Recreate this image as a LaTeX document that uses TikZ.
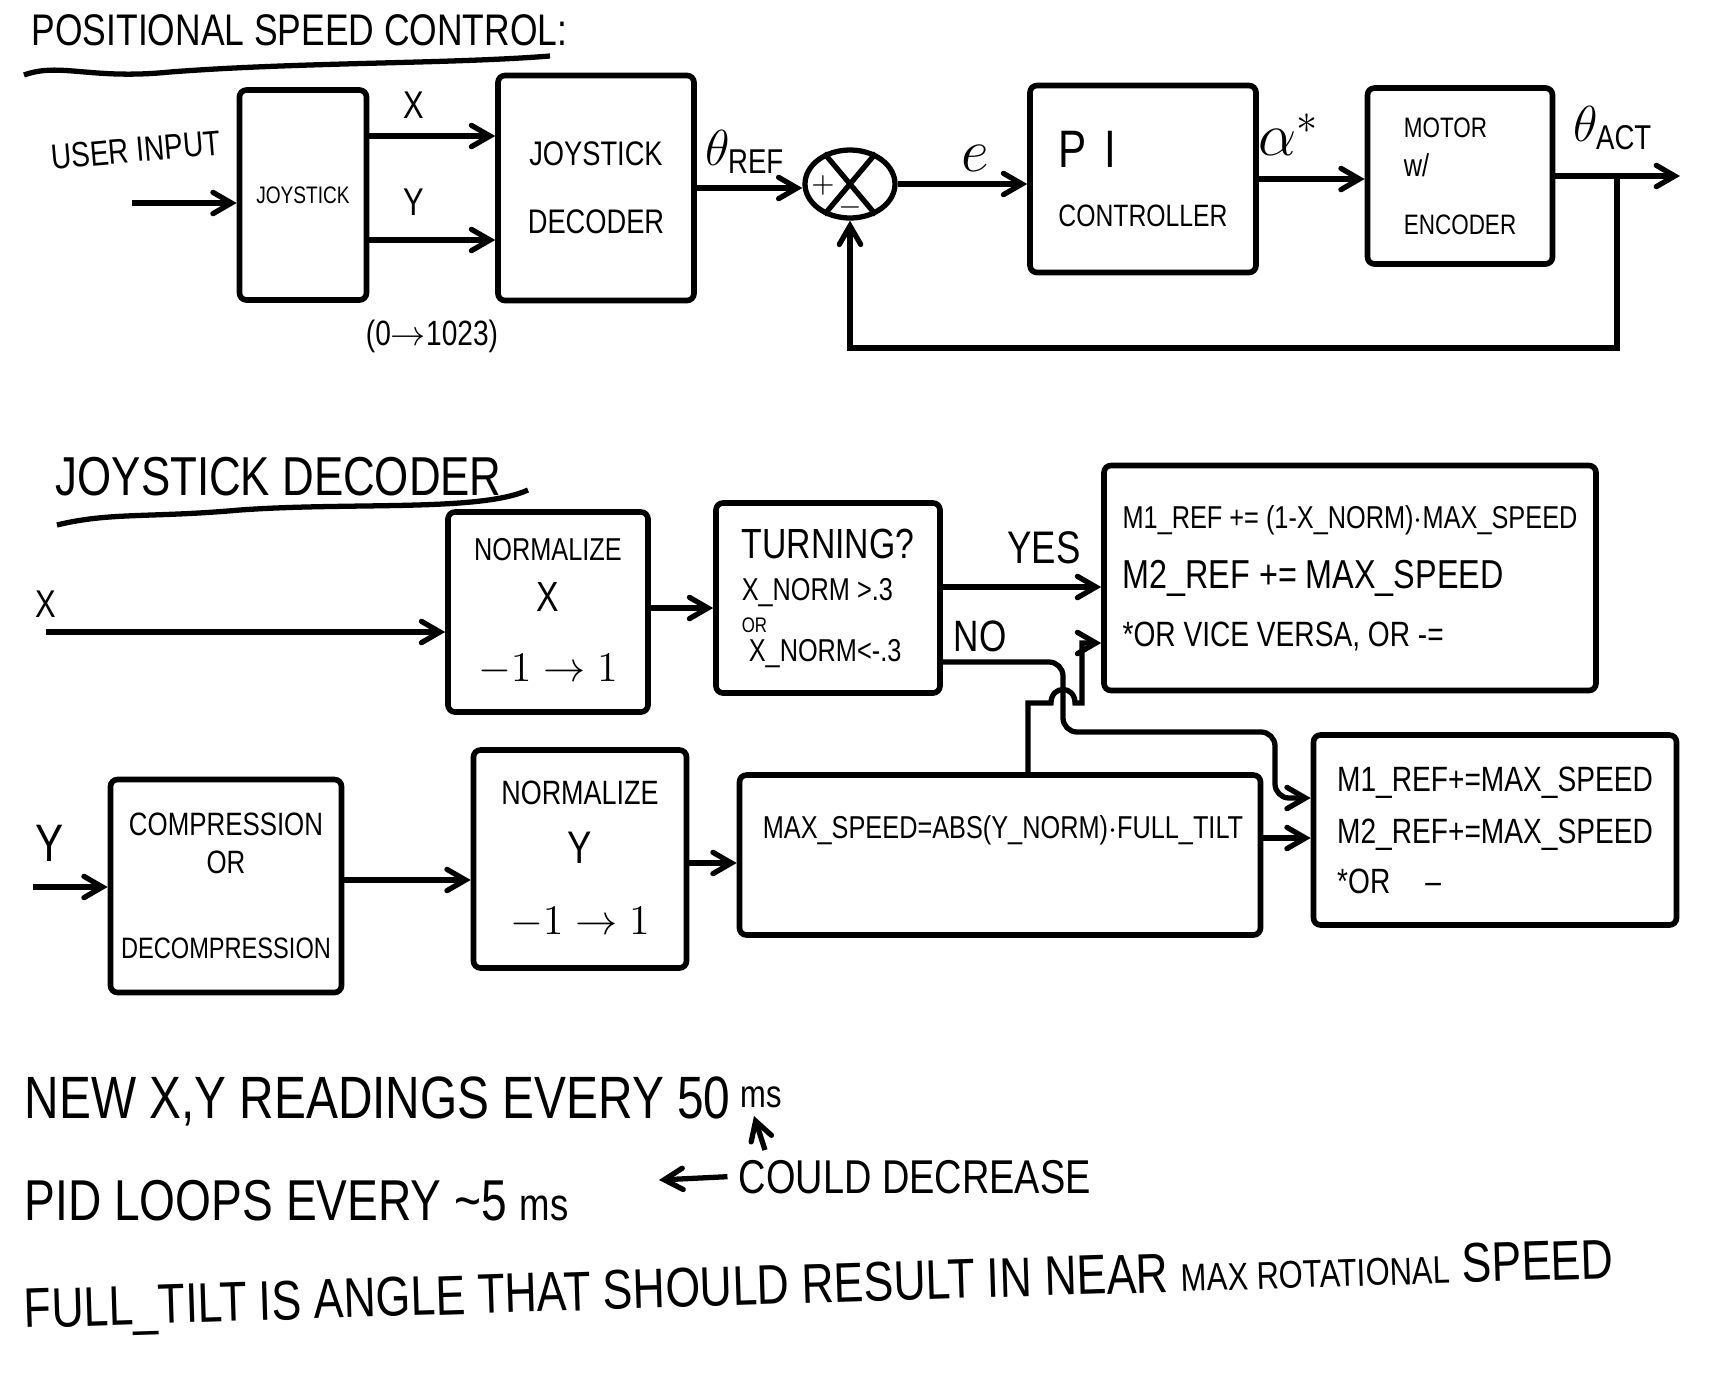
\documentclass[tikz,border=0pt]{standalone}
\usepackage{amsmath}
\usepackage{fontspec}
\setmainfont{Liberation Sans}[FakeStretch=0.8]
\usepackage{tikz}
\usetikzlibrary{shapes.geometric, arrows}
\tikzstyle{arrow} = [line width=1.5pt,->,>=angle 60]
\tikzstyle{line} = [line width=1.5pt]
\tikzstyle{block} = [draw, line width=1.6pt, rectangle, rounded corners=2pt, inner sep=0pt, align=center, font=\fs{10}]
\tikzstyle{note} = [anchor=base west, inner sep=0pt]
\newcommand{\fs}[1]{\fontsize{#1}{#1}\selectfont}

\begin{document}
\begin{tikzpicture}[x=0.1mm,y=-0.1mm]
\fill[white] (0,0) rectangle (1727,1372);
\useasboundingbox (0,0) rectangle (1727,1372);

\node[note, font=\fs{12.6}] (title) at (31,45) {POSITIONAL SPEED CONTROL:};
\draw[line] (24,75) .. controls (60,62) and (90,80) .. (170,72) .. controls (300,62) and (450,64) .. (550,56);

\node[font=\fs{10}, rotate=5] (uinput) at (136,150) {USER INPUT};
\coordinate (uin) at (132,203);
\node[block, minimum width=12.7mm, minimum height=21mm] (joy) at (303,195) {{\fs{6.8}JOYSTICK}};
\node[block, minimum width=19.6mm, minimum height=22.5mm] (dec) at (596,188) {{\fs{9.7}JOYSTICK}\\[9.3pt]{\fs{9.7}DECODER}};
\node[draw, ellipse, line width=1.5pt, minimum width=9mm, minimum height=6.8mm, inner sep=0pt] (sum) at (850,184) {};
\node[block, align=left, minimum width=22.6mm, minimum height=18.7mm] (pi) at (1143,179) {{\fs{15}P\,\,I}\\[7pt]{\fs{8.8}CONTROLLER}};
\node[block, align=left, minimum width=18.5mm, minimum height=17.6mm] (motor) at (1460,176) {{\fs{8}MOTOR}\\[1pt]{\fs{9}w/}\\[6.5pt]{\fs{8}ENCODER}};
\coordinate (tap) at (1617,176);
\coordinate (out) at (1680,176);

\draw[line] (sum.130) -- (sum.-50) (sum.50) -- (sum.-130);
\node[font=\fs{8}, inner sep=0pt] (plus) at (823,185) {$+$};
\node[font=\fs{8}, inner sep=0pt] (minus) at (850,207) {$-$};

\draw[arrow] (uin) -- (joy.west |- uin);
\draw[arrow] (joy.east |- 0,136) -- (dec.west |- 0,136) node[pos=0.35, above=1pt, font=\fs{11}] (xlab) {X};
\draw[arrow] (joy.east |- 0,240) -- (dec.west |- 0,240) node[pos=0.35, above=3pt, font=\fs{11}] (ylab) {Y};
\node[font=\fs{10}] (range) at (432,336) {(0$\rightarrow$1023)};
\draw[arrow] (dec.east) -- (dec.east -| sum.west);
\node[font=\fs{14}] (thref) at (745,152) {$\theta_{\text{REF}}$};
\draw[arrow] (sum.east) -- (sum.east -| pi.west);
\node[font=\fs{17}] (elab) at (975,158) {$e$};
\draw[arrow] (pi.east) -- (pi.east -| motor.west);
\node[font=\fs{17}] (alab) at (1289,135) {$\alpha^{*}$};
\draw[arrow] (motor.east) -- (out);
\node[font=\fs{14}] (thact) at (1613,128) {$\theta_{\text{ACT}}$};
\draw[arrow] (tap) -- (1617,348) -| (sum.south);

\node[note, font=\fs{15.6}] (title2) at (55,495) {JOYSTICK DECODER};
\draw[line] (57,525) .. controls (110,512) and (150,518) .. (240,510) .. controls (350,502) and (480,512) .. (528,490);

\node[font=\fs{11}] (xlab2) at (46,604) {X};
\coordinate (xin) at (46,632);
\node[font=\fs{15}] (ylab2) at (50,843) {Y};
\coordinate (yin) at (33,887);

\node[block, minimum width=20mm, minimum height=20mm] (nx) at (548,612) {{\fs{9}NORMALIZE}\\[4.5pt]{\fs{12}X}\\[10pt]{\fs{13}$-1\rightarrow1$}};
\node[block, align=left, minimum width=22.4mm, minimum height=19mm] (turn) at (828,598) {{\fs{12}TURNING?}\\[2pt]{\fs{9}X\_NORM >.3}\\[-0.9pt]{\fs{6}OR}\\[-1.8pt]{\fs{9}\hspace{2pt}X\_NORM<-.3}};
\node[block, align=left, minimum width=49.2mm, minimum height=22.5mm] (ybox) at (1350,578) {{\fs{9}M1\_REF += (1-X\_NORM)$\cdot$MAX\_SPEED}\\[7pt]{\fs{11.5}M2\_REF += MAX\_SPEED}\\[6.5pt]{\fs{10}*OR VICE VERSA, OR -=}};
\node[block, minimum width=23.1mm, minimum height=21.3mm] (comp) at (226,886) {{\fs{9.2}COMPRESSION}\\[0.8pt]{\fs{9.2}OR}\\[14.2pt]{\fs{8.4}DECOMPRESSION}};
\node[block, minimum width=21.3mm, minimum height=21.8mm] (ny) at (580,859) {{\fs{9.6}NORMALIZE}\\[7pt]{\fs{13}Y}\\[10pt]{\fs{13}$-1\rightarrow1$}};
\node[block, minimum width=52.1mm, minimum height=16mm] (maxs) at (1000,855) {};
\node[font=\fs{9}] (maxtxt) at (1003,830) {MAX\_SPEED=ABS(Y\_NORM)$\cdot$FULL\_TILT};
\node[block, align=left, minimum width=36.3mm, minimum height=19mm] (nob) at (1495,830) {{\fs{10}M1\_REF+=MAX\_SPEED}\\[5pt]{\fs{10}M2\_REF+=MAX\_SPEED}\\[4pt]{\fs{10}*OR\quad\textendash}};

\draw[arrow] (xin) -- (nx.west |- xin);
\draw[arrow] (nx.east |- 0,608) -- (turn.west |- 0,608);
\draw[arrow] (turn.east |- 0,587) -- (ybox.west |- 0,587);
\node[font=\fs{13}] (yes) at (1044,548) {YES};
\draw[arrow, rounded corners=4pt] (turn.east |- 0,662) -| (1063,732) -| (1275,798) -- (nob.west |- 0,798);
\node[font=\fs{12.5}] (no) at (980,636) {NO};
\draw[arrow] (maxs.north -| 1028,0) -- (1028,703) -- (1051,703) .. controls (1051,685) and (1075,685) .. (1075,703) -- (1082,703) -- (1082,643) -- (ybox.west |- 0,643);
\draw[arrow] (yin) -- (comp.west |- yin);
\draw[arrow] (comp.east |- 0,880) -- (ny.west |- 0,880);
\draw[arrow] (ny.east |- 0,863) -- (maxs.west |- 0,863);
\draw[arrow] (maxs.east |- 0,838) -- (nob.west |- 0,838);

\node[note, font=\fs{17}] (n1) at (24,1118) {NEW X,Y READINGS EVERY 50\,\raisebox{3pt}{\fs{11}ms}};
\node[note, font=\fs{16.4}] (n2) at (24,1220) {PID LOOPS EVERY \textasciitilde5 {\fs{13}ms}};
\node[note, font=\fs{13.5}] (cd) at (738,1193) {COULD DECREASE};
\coordinate (up0) at (765,1150);
\coordinate (up1) at (754,1116);
\draw[arrow] (up0) -- (up1);
\draw[arrow] ([xshift=-3pt]cd.west) -- (659,1180);
\node[note, font=\fs{15.9}, rotate=1.8] (n3) at (24,1328) {FULL\_TILT IS ANGLE THAT SHOULD RESULT IN NEAR {\fs{11}MAX ROTATIONAL} SPEED};
\end{tikzpicture}
\end{document}
